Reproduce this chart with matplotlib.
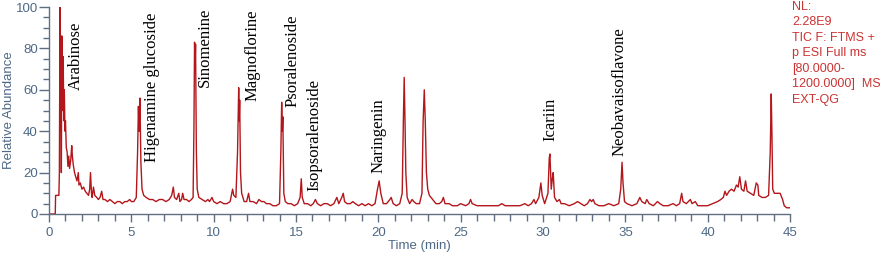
import matplotlib
matplotlib.use("Agg")
import matplotlib.pyplot as plt
from matplotlib.ticker import MultipleLocator

# Chromatogram trace: retention time (min) and relative abundance (%)
time_min = [
    0.0, 0.38, 0.40, 0.60, 0.63, 0.67, 0.70, 0.72, 0.75, 0.78, 0.82, 0.86, 0.90, 0.93, 0.97,
    1.00, 1.05, 1.10, 1.15, 1.20, 1.25, 1.32, 1.38, 1.42, 1.47, 1.55, 1.62, 1.70, 1.78, 1.82,
    1.90, 2.00, 2.10, 2.20, 2.30, 2.40, 2.47, 2.52, 2.58, 2.62, 2.70, 2.78, 2.90, 3.00, 3.10,
    3.20, 3.28, 3.40, 3.55, 3.70, 3.85, 4.00, 4.15, 4.30, 4.45, 4.60, 4.75, 4.90, 5.00, 5.15,
    5.30, 5.38, 5.43, 5.47, 5.52, 5.58, 5.65, 5.75, 5.90, 6.10, 6.30, 6.50, 6.70, 6.90, 7.10,
    7.30, 7.45, 7.55, 7.62, 7.75, 7.88, 7.95, 8.05, 8.12, 8.20, 8.35, 8.50, 8.65, 8.75, 8.80,
    8.84, 8.87, 8.90, 8.95, 9.00, 9.10, 9.30, 9.50, 9.65, 9.75, 9.90, 10.0, 10.2, 10.4, 10.6,
    10.8, 11.0, 11.15, 11.22, 11.35, 11.45, 11.52, 11.55, 11.58, 11.63, 11.70, 11.85, 12.0, 12.12, 12.2,
    12.4, 12.6, 12.75, 12.9, 13.05, 13.2, 13.4, 13.6, 13.8, 14.0, 14.08, 14.13, 14.17, 14.20, 14.26,
    14.35, 14.5, 14.7, 14.9, 15.1, 15.25, 15.32, 15.38, 15.5, 15.7, 15.9, 16.05, 16.18, 16.3, 16.5,
    16.7, 16.9, 17.1, 17.3, 17.48, 17.6, 17.78, 17.87, 17.95, 18.1, 18.3, 18.45, 18.6, 18.8, 19.0,
    19.2, 19.4, 19.6, 19.8, 19.95, 20.05, 20.15, 20.3, 20.5, 20.7, 20.78, 20.9, 21.1, 21.3, 21.45,
    21.52, 21.57, 21.62, 21.67, 21.75, 21.9, 22.05, 22.15, 22.3, 22.5, 22.65, 22.72, 22.79, 22.85, 22.92,
    23.0, 23.1, 23.3, 23.5, 23.7, 23.85, 23.95, 24.05, 24.3, 24.5, 24.8, 25.0, 25.3, 25.5, 25.6,
    25.7, 26.0, 26.3, 26.6, 27.0, 27.3, 27.5, 27.7, 28.0, 28.3, 28.6, 28.9, 29.1, 29.3, 29.45,
    29.55, 29.75, 29.87, 29.95, 30.1, 30.3, 30.38, 30.42, 30.5, 30.58, 30.62, 30.7, 30.85, 31.0, 31.1,
    31.3, 31.6, 31.9, 32.1, 32.3, 32.5, 32.7, 32.85, 32.95, 33.05, 33.15, 33.4, 33.7, 34.0, 34.3,
    34.6, 34.72, 34.8, 34.86, 34.95, 35.1, 35.4, 35.7, 35.88, 36.0, 36.2, 36.3, 36.45, 36.7, 36.95,
    37.1, 37.3, 37.6, 37.9, 38.1, 38.3, 38.42, 38.5, 38.7, 38.95, 39.05, 39.25, 39.4, 39.7, 40.0,
    40.3, 40.6, 40.8, 40.95, 41.05, 41.15, 41.3, 41.45, 41.6, 41.75, 41.85, 41.95, 42.05, 42.2, 42.3,
    42.4, 42.6, 42.8, 42.95, 43.05, 43.1, 43.3, 43.5, 43.7, 43.8, 43.86, 43.9, 43.95, 44.05, 44.2,
    44.4, 44.55, 44.65, 44.8, 45.0,
]
abundance = [
    0, 0, 9, 9, 20, 100, 40, 86, 20, 86, 50, 76, 45, 60, 40,
    45, 32, 30, 23, 28, 22, 26, 33, 28, 24, 20, 18, 16, 20, 14,
    15, 12, 13, 11, 10, 9, 12, 20, 10, 8, 13, 9, 8, 7, 8,
    11, 7, 7, 6, 7, 6, 5, 6, 6, 5, 6, 6, 7, 6, 6,
    8, 30, 52, 40, 56, 25, 12, 9, 8, 7, 7, 6, 7, 7, 6,
    7, 9, 13, 8, 7, 10, 6, 7, 10, 7, 7, 6, 7, 8, 40,
    83, 70, 82, 30, 12, 8, 7, 6, 7, 6, 8, 6, 5, 6, 5,
    5, 6, 12, 9, 8, 30, 61, 45, 55, 20, 10, 6, 6, 10, 6,
    6, 5, 7, 6, 6, 5, 5, 4, 4, 5, 30, 54, 40, 47, 10,
    6, 5, 5, 4, 5, 8, 17, 8, 5, 5, 4, 5, 7, 5, 4,
    5, 5, 4, 5, 8, 5, 8, 10, 6, 5, 5, 6, 5, 4, 5,
    4, 5, 4, 5, 12, 16, 10, 5, 5, 7, 8, 5, 4, 5, 10,
    45, 66, 45, 20, 8, 5, 7, 6, 5, 5, 10, 45, 60, 45, 20,
    12, 9, 7, 5, 5, 6, 8, 5, 5, 4, 4, 5, 4, 5, 7,
    5, 4, 4, 4, 4, 4, 5, 4, 4, 4, 4, 5, 4, 5, 7,
    5, 8, 15, 9, 5, 10, 27, 29, 12, 18, 20, 8, 6, 7, 5,
    5, 4, 5, 6, 5, 4, 5, 7, 6, 7, 5, 4, 4, 5, 4,
    5, 12, 25, 15, 6, 5, 4, 5, 8, 6, 5, 7, 5, 4, 6,
    5, 4, 4, 5, 4, 5, 10, 6, 5, 7, 5, 6, 4, 4, 4,
    5, 6, 7, 8, 11, 9, 11, 12, 11, 14, 13, 18, 12, 11, 16,
    11, 10, 9, 15, 14, 9, 8, 8, 9, 30, 58, 40, 12, 10, 10,
    10, 7, 4, 3, 3,
]

# Compound labels: name, x position (min), top of text (abundance units)
compound_names = ["Arabinose", "Higenamine glucoside", "Sinomenine", "Magnoflorine",
                  "Psoralenoside", "Isopsoralenoside", "Naringenin", "Icariin",
                  "Neobavaisoflavone"]
label_x = [1.64, 6.23, 9.47, 12.35, 14.78, 16.09, 20.0, 30.42, 34.63]
label_top = [93, 97.5, 99.5, 99, 96.5, 65, 56, 56, 90]

info_text = "NL:\n2.28E9\nTIC F: FTMS +\np ESI Full ms\n[80.0000-\n1200.0000]  MS\nEXT-QG"

axis_color = "#4d6986"
spine_color = "#5f6f80"
line_color = "#b3161b"

fig = plt.figure(figsize=(8.86, 2.58), dpi=100)
ax = fig.add_axes([49 / 886, 44 / 258, 741 / 886, 207 / 258])

ax.plot(time_min, abundance, color=line_color, lw=1.0)

ax.set_xlim(0, 45)
ax.set_ylim(0, 100)
ax.xaxis.set_major_locator(MultipleLocator(5))
ax.xaxis.set_minor_locator(MultipleLocator(1))
ax.yaxis.set_major_locator(MultipleLocator(20))
ax.yaxis.set_minor_locator(MultipleLocator(5))

for s in ["top", "right"]:
    ax.spines[s].set_visible(False)
for s in ["left", "bottom"]:
    ax.spines[s].set_color(spine_color)
    ax.spines[s].set_linewidth(1.0)

ax.tick_params(axis="both", which="major", direction="out", width=1,
               color=spine_color, labelcolor=axis_color)
ax.tick_params(axis="both", which="minor", direction="out", width=1,
               color=spine_color)
ax.tick_params(axis="y", which="major", length=7, labelsize=9.5, pad=1)
ax.tick_params(axis="y", which="minor", length=4.5)
ax.tick_params(axis="x", which="major", length=6, labelsize=9.5, pad=3)
ax.tick_params(axis="x", which="minor", length=5)

ax.set_xlabel("Time (min)", fontsize=9.5, color=axis_color, family="Liberation Sans", labelpad=1)
fig.text(9 / 886, 1 - 110 / 258, "Relative Abundance", rotation=90, ha="center", va="center",
         fontsize=9.5, color=axis_color, family="Liberation Sans")
for lab in ax.get_xticklabels() + ax.get_yticklabels():
    lab.set_family("Liberation Sans")

for name, x, top in zip(compound_names, label_x, label_top):
    ax.text(x, top, name, rotation=90, ha="center", va="top", fontsize=12,
            family="Liberation Serif", color="black", clip_on=False)

fig.text(792 / 886, 1 - 1 / 258, info_text, ha="left", va="top", fontsize=9,
         family="Liberation Sans", color="#cc3333", linespacing=1.38)

fig.savefig("out.png", dpi=100)
